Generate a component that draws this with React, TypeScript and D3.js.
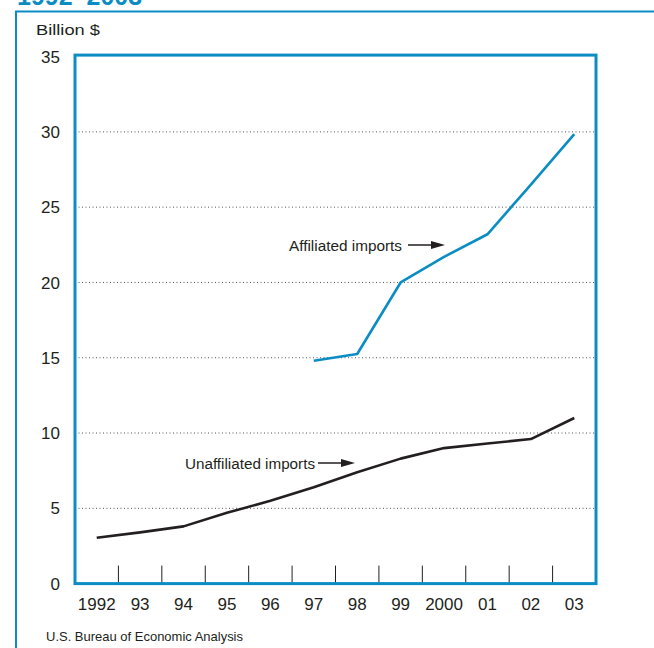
import { useEffect, useRef } from "react";
import * as d3 from "d3";

const years = ["1992", "1993", "1994", "1995", "1996", "1997", "1998", "1999", "2000", "2001", "2002", "2003"];
const yearLabels = ["1992", "93", "94", "95", "96", "97", "98", "99", "2000", "01", "02", "03"];
const unaffiliated = [3.05, 3.4, 3.8, 4.7, 5.5, 6.4, 7.4, 8.3, 9.0, 9.3, 9.6, 11.0];
const affiliatedYears = ["1997", "1998", "1999", "2000", "2001", "2002", "2003"];
const affiliated = [14.8, 15.25, 20.0, 21.7, 23.2, 26.5, 29.85];
const yTicks = [0, 5, 10, 15, 20, 25, 30, 35];
const gridValues = [5, 10, 15, 20, 25, 30];

const BLUE = "#0b8dc4";
const INK = "#231f20";
const FONT = "'Liberation Sans', Arial, sans-serif";

export default function App() {
  const ref = useRef<SVGSVGElement>(null);

  useEffect(() => {
    if (!ref.current) return;
    const svg = d3.select(ref.current);
    svg.selectAll("*").remove();

    const left = 75, right = 596, top = 56.6, bottom = 583.6;
    const x = d3.scaleBand<string>().domain(years).range([left, right]);
    const y = d3.scaleLinear().domain([0, 35]).range([bottom, top]);
    const cx = (yr: string) => (x(yr) ?? 0) + x.bandwidth() / 2;

    // title (cut off at top)
    svg.append("text")
      .attr("x", 17).attr("y", 5)
      .attr("font-family", FONT).attr("font-weight", "bold").attr("font-size", 25)
      .attr("fill", BLUE)
      .text("1992–2003");

    // outer frame
    svg.append("path")
      .attr("d", `M16,660 L16,11.5 L670,11.5`)
      .attr("fill", "none").attr("stroke", BLUE).attr("stroke-width", 2);

    svg.append("text")
      .attr("x", 36).attr("y", 35)
      .attr("font-family", FONT).attr("font-size", 15.5)
      .attr("fill", INK)
      .attr("textLength", 64).attr("lengthAdjust", "spacingAndGlyphs")
      .text("Billion $");

    // gridlines
    svg.append("g").selectAll("line")
      .data(gridValues)
      .join("line")
      .attr("x1", left).attr("x2", right)
      .attr("y1", (d) => y(d)).attr("y2", (d) => y(d))
      .attr("stroke", "#555").attr("stroke-width", 1)
      .attr("stroke-dasharray", "1,2.5");

    // y labels
    svg.append("g").selectAll("text")
      .data(yTicks)
      .join("text")
      .attr("x", 60).attr("y", (d) => y(d))
      .attr("dy", "0.36em")
      .attr("text-anchor", "end")
      .attr("font-family", FONT).attr("font-size", 17)
      .attr("fill", INK)
      .text((d) => String(d));

    // x ticks (inside, at band boundaries)
    svg.append("g").selectAll("line")
      .data(years.slice(1))
      .join("line")
      .attr("x1", (d) => x(d) ?? 0).attr("x2", (d) => x(d) ?? 0)
      .attr("y1", bottom).attr("y2", bottom - 18)
      .attr("stroke", INK).attr("stroke-width", 1);

    // x labels
    svg.append("g").selectAll("text")
      .data(years)
      .join("text")
      .attr("x", (d) => cx(d)).attr("y", 610)
      .attr("text-anchor", "middle")
      .attr("font-family", FONT).attr("font-size", 17)
      .attr("fill", INK)
      .text((d, i) => yearLabels[i]);

    // plot frame
    svg.append("rect")
      .attr("x", left).attr("y", top - 1.5)
      .attr("width", right - left).attr("height", bottom - top + 1.5)
      .attr("fill", "none").attr("stroke", BLUE).attr("stroke-width", 3);

    const line = d3.line<[string, number]>()
      .x((d) => cx(d[0]))
      .y((d) => y(d[1]));

    svg.append("path")
      .datum(years.map((yr, i) => [yr, unaffiliated[i]] as [string, number]))
      .attr("d", line)
      .attr("fill", "none").attr("stroke", INK).attr("stroke-width", 2.6)
      .attr("stroke-linejoin", "round");

    svg.append("path")
      .datum(affiliatedYears.map((yr, i) => [yr, affiliated[i]] as [string, number]))
      .attr("d", line)
      .attr("fill", "none").attr("stroke", BLUE).attr("stroke-width", 2.6)
      .attr("stroke-linejoin", "round");

    // annotations with arrows
    const notes = [
      { text: "Affiliated imports", x: 289, y: 245, w: 113, ax0: 408, ax1: 445 },
      { text: "Unaffiliated imports", x: 185, y: 463, w: 130, ax0: 318, ax1: 355 },
    ];
    notes.forEach((n) => {
      svg.append("text")
        .attr("x", n.x).attr("y", n.y).attr("dy", "0.36em")
        .attr("font-family", FONT).attr("font-size", 15.5)
        .attr("fill", INK)
        .attr("textLength", n.w).attr("lengthAdjust", "spacingAndGlyphs")
        .text(n.text);
      svg.append("line")
        .attr("x1", n.ax0).attr("x2", n.ax1 - 10)
        .attr("y1", n.y).attr("y2", n.y)
        .attr("stroke", INK).attr("stroke-width", 1.5);
      svg.append("path")
        .attr("d", `M${n.ax1},${n.y} L${n.ax1 - 14},${n.y - 4} L${n.ax1 - 14},${n.y + 4} Z`)
        .attr("fill", INK);
    });

    svg.append("text")
      .attr("x", 46).attr("y", 641)
      .attr("font-family", FONT).attr("font-size", 13)
      .attr("fill", INK)
      .attr("textLength", 197).attr("lengthAdjust", "spacingAndGlyphs")
      .text("U.S. Bureau of Economic Analysis");
  }, []);

  return (
    <svg
      ref={ref}
      width={654}
      height={648}
      style={{ position: "absolute", left: 0, top: 0, background: "#fff" }}
    />
  );
}
